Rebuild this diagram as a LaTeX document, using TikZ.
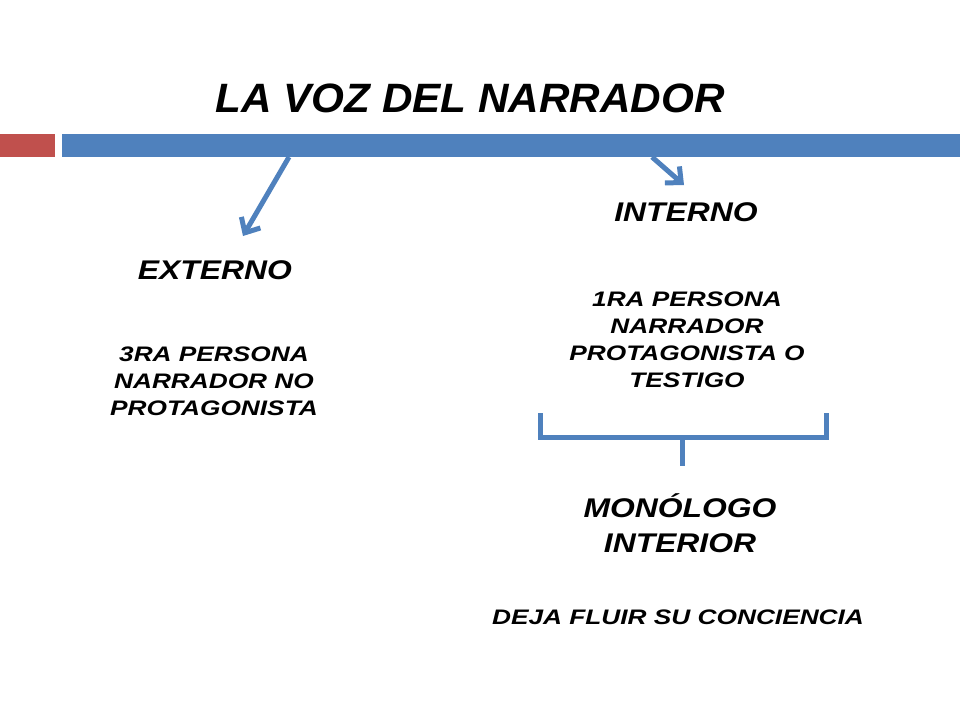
\documentclass[tikz,border=0pt]{standalone}
\usepackage{fontspec}
\setmainfont{Liberation Sans}
\usetikzlibrary{arrows.meta}
\definecolor{barblue}{RGB}{79,129,189}
\definecolor{barred}{RGB}{192,80,77}
\begin{document}
\begin{tikzpicture}[x=1pt,y=-1pt,
  txt/.style={font=\bfseries\itshape\fontsize{21}{27}\selectfont,align=center,xscale=1.25},
  head/.style={font=\bfseries\itshape\fontsize{27}{35}\selectfont,align=center,xscale=1.18},
  conn/.style={barblue,line width=5pt,-{Straight Barb[length=12pt,width=22pt,line width=5pt]}},
  brk/.style={barblue,line width=5pt}]
\useasboundingbox (0,0) rectangle (960,720);
\fill[barred] (0,134) rectangle (55,157);
\fill[barblue] (62,134) rectangle (960,157);
\node[font=\bfseries\itshape\fontsize{41}{48}\selectfont,xscale=1.03] (title) at (470,98) {LA VOZ DEL NARRADOR};
\coordinate (s1) at (289,157);
\coordinate (s2) at (652,157);
\coordinate (e1) at (243,236);
\coordinate (e2) at (684,185);
\draw[conn] (s1) -- (e1);
\draw[conn] (s2) -- (e2);
\node[head] (ext) at (215,270) {EXTERNO};
\node[txt] (extt) at (214,381) {3RA PERSONA\\NARRADOR NO\\PROTAGONISTA};
\node[head] (int) at (686,212) {INTERNO};
\node[txt] (intt) at (687,340) {1RA PERSONA\\NARRADOR\\PROTAGONISTA O\\TESTIGO};
\coordinate (b1) at (540,413);
\coordinate (b2) at (826,413);
\coordinate (bm) at (682,437);
\coordinate (bs) at (682,466);
\draw[brk] (b1) |- (bm) -| (b2);
\draw[brk] (bm) -- (bs);
\node[head] (mon) at (680,523) {MONÓLOGO\\INTERIOR};
\node[txt] (deja) at (678,617) {DEJA FLUIR SU CONCIENCIA};
\end{tikzpicture}
\end{document}
